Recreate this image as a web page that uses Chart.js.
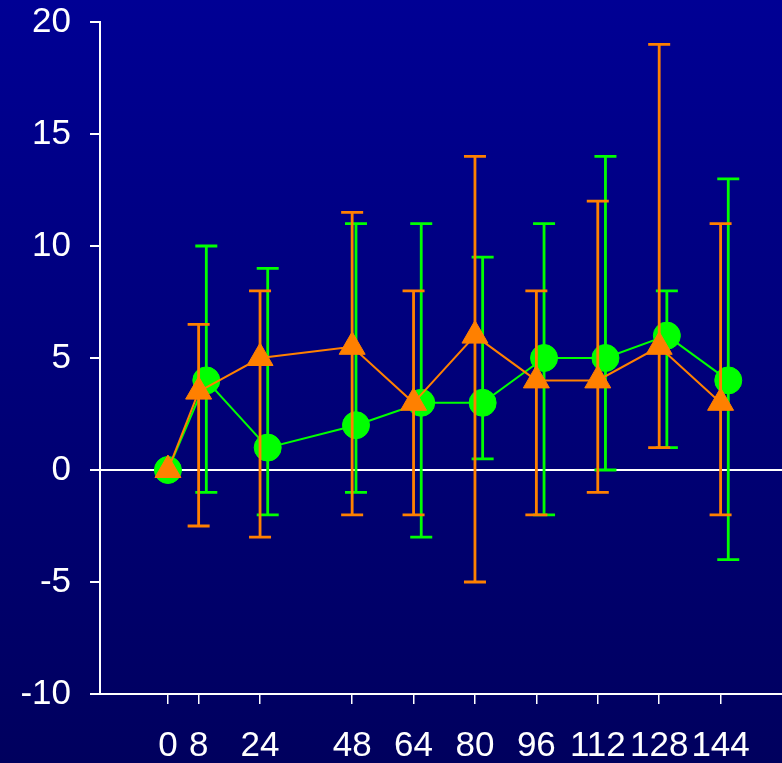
<!DOCTYPE html>
<html>
<head>
<meta charset="utf-8">
<script src="https://cdn.jsdelivr.net/npm/chart.js@4/dist/chart.umd.min.js"></script>
<style>
  html, body { margin: 0; padding: 0; background: #000080; }
  #wrap { width: 782px; height: 763px; }
</style>
</head>
<body>
<div id="wrap"><canvas id="chart" width="782" height="763"></canvas></div>
<script>
// x tick labels (hours)
const xTicks = [0, 8, 24, 48, 64, 80, 96, 112, 128, 144];

// green series (circles), slightly offset to the right
const greenX = [0, 10, 26, 49, 66, 82, 98, 114, 130, 146];
const greenY = [0, 4, 1, 2, 3, 3, 5, 5, 6, 4];
const greenLow = [0, -1, -2, -1, -3, 0.5, -2, 0, 1, -4];
const greenHigh = [0, 10, 9, 11, 11, 9.5, 11, 14, 8, 13];

// orange series (triangles)
const orangeX = [0, 8, 24, 48, 64, 80, 96, 112, 128, 144];
const orangeY = [0, 3.5, 5, 5.5, 3, 6, 4, 4, 5.5, 3];
const orangeLow = [0, -2.5, -3, -2, -2, -5, -2, -1, 1, -2];
const orangeHigh = [0, 6.5, 8, 11.5, 8, 14, 8, 12, 19, 11];

const GREEN = "#00ff00";
const ORANGE = "#ff8000";

function toPoints(xs, ys) {
  return xs.map((x, i) => ({ x: x, y: ys[i] }));
}

const bgPlugin = {
  id: "bg",
  beforeDraw(chart) {
    const ctx = chart.ctx;
    const g = ctx.createLinearGradient(0, 0, 0, chart.height);
    g.addColorStop(0, "#000094");
    g.addColorStop(1, "#00005e");
    ctx.save();
    ctx.fillStyle = g;
    ctx.fillRect(0, 0, chart.width, chart.height);
    ctx.restore();
  },
};

// draw each dataset's error bars just before the dataset itself
const errorBars = {
  id: "errorBars",
  beforeDatasetDraw(chart, args) {
    const ds = chart.data.datasets[args.index];
    if (!ds.errLow) return;
    const xs = chart.scales.x;
    const ys = chart.scales.y;
    const ctx = chart.ctx;
    ctx.save();
    ctx.strokeStyle = ds.borderColor;
    ctx.lineWidth = 2.8;
    ds.data.forEach((p, i) => {
      const lo = ds.errLow[i];
      const hi = ds.errHigh[i];
      if (lo === hi) return;
      const px = xs.getPixelForValue(p.x);
      const yLo = ys.getPixelForValue(lo);
      const yHi = ys.getPixelForValue(hi);
      ctx.beginPath();
      ctx.moveTo(px, yLo);
      ctx.lineTo(px, yHi);
      ctx.moveTo(px - 11, yLo);
      ctx.lineTo(px + 11, yLo);
      ctx.moveTo(px - 11, yHi);
      ctx.lineTo(px + 11, yHi);
      ctx.stroke();
    });
    ctx.restore();
  },
};

const ctx = document.getElementById("chart").getContext("2d");
new Chart(ctx, {
  type: "line",
  data: {
    datasets: [
      {
        label: "orange",
        data: toPoints(orangeX, orangeY),
        errLow: orangeLow,
        errHigh: orangeHigh,
        borderColor: ORANGE,
        backgroundColor: ORANGE,
        borderWidth: 2,
        pointStyle: "triangle",
        pointRadius: 15,
        pointBorderWidth: 1,
        tension: 0,
        clip: false,
      },
      {
        label: "green",
        data: toPoints(greenX, greenY),
        errLow: greenLow,
        errHigh: greenHigh,
        borderColor: GREEN,
        backgroundColor: GREEN,
        borderWidth: 2,
        pointStyle: "circle",
        pointRadius: 13.5,
        pointBorderWidth: 1,
        tension: 0,
        clip: false,
      },
    ],
  },
  options: {
    responsive: false,
    animation: false,
    layout: { autoPadding: false, padding: { top: 22, right: 0, bottom: 0, left: 0 } },
    plugins: {
      legend: { display: false },
      tooltip: { enabled: false },
    },
    scales: {
      x: {
        type: "linear",
        min: -17.7,
        max: 160,
        afterBuildTicks: (scale) => {
          scale.ticks = xTicks.map((v) => ({ value: v }));
        },
        afterFit: (scale) => {
          scale.height = 69;
          scale.paddingLeft = 0;
          scale.paddingRight = 0;
        },
        grid: {
          drawOnChartArea: false,
          tickColor: "#ffffff",
          tickLength: 10,
          lineWidth: 1.5,
        },
        border: { color: "#ffffff", width: 2 },
        ticks: {
          autoSkip: false,
          maxRotation: 0,
          color: "#ffffff",
          padding: 21,
          font: { family: "Liberation Sans", size: 35 },
        },
      },
      y: {
        min: -10,
        max: 20,
        afterFit: (scale) => {
          scale.width = 100;
          scale.paddingTop = 0;
          scale.paddingBottom = 0;
        },
        grid: {
          color: (c) => (c.tick && c.tick.value === 0 ? "#ffffff" : "rgba(0,0,0,0)"),
          tickColor: "#ffffff",
          tickLength: 10,
          lineWidth: 2,
        },
        border: { color: "#ffffff", width: 2 },
        ticks: {
          stepSize: 5,
          color: "#ffffff",
          padding: 19,
          font: { family: "Liberation Sans", size: 35 },
        },
      },
    },
  },
  plugins: [bgPlugin, errorBars],
});
</script>
</body>
</html>
